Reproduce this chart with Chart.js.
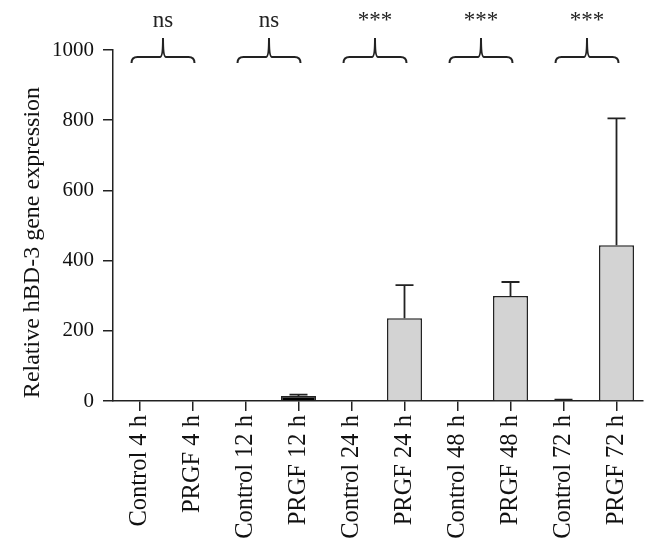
<!DOCTYPE html>
<html>
<head>
<meta charset="utf-8">
<script src="https://cdn.jsdelivr.net/npm/chart.js@4"></script>
<style>
    html, body { margin: 0; padding: 0; background: white; }
    #wrap { width: 658px; height: 544px; }
</style>
</head>
<body>
<div id="wrap"><canvas id="graph"></canvas></div>
<script>
const categories = ["Control 4 h", "PRGF 4 h", "Control 12 h", "PRGF 12 h", "Control 24 h",
    "PRGF 24 h", "Control 48 h", "PRGF 48 h", "Control 72 h", "PRGF 72 h"];
const expression = [0.5, 2, 2, 14, 0.5, 236, 2, 299, 2, 444];
const errorUp = [0, 0, 0, 4, 0, 94, 0, 40, 2, 361];
const barColors = ["#d3d3d3", "#d3d3d3", "#d3d3d3", "#000000", "#d3d3d3",
    "#d3d3d3", "#d3d3d3", "#d3d3d3", "#d3d3d3", "#d3d3d3"];
const yTicks = [0, 200, 400, 600, 800, 1000];
const yTitle = "Relative hBD-3 gene expression";
// paires comparées et leur significativité
const pairs = [[0, 1], [2, 3], [4, 5], [6, 7], [8, 9]];
const signif = ["ns", "ns", "***", "***", "***"];

const police = "'Liberation Serif', 'Times New Roman', serif";
const trait = "#222";

// barres d'erreur (vers le haut seulement)
const errorPlugin = {
    id: "errorbars",
    afterDatasetsDraw(chart) {
        const ctx = chart.ctx;
        const x = chart.scales.x;
        const y = chart.scales.y;
        ctx.save();
        ctx.strokeStyle = trait;
        ctx.lineWidth = 1.8;
        for (let i = 0; i < expression.length; i++) {
            if (!errorUp[i]) continue;
            const px = x.getPixelForValue(i);
            const top = y.getPixelForValue(expression[i] + errorUp[i]);
            const base = y.getPixelForValue(expression[i]);
            ctx.beginPath();
            ctx.moveTo(px, base);
            ctx.lineTo(px, top);
            ctx.moveTo(px - 9, top);
            ctx.lineTo(px + 9, top);
            ctx.stroke();
        }
        ctx.restore();
    }
};

// accolades + texte de significativité + titre de l'axe y
const bracePlugin = {
    id: "braces",
    afterDraw(chart) {
        const ctx = chart.ctx;
        const x = chart.scales.x;
        const y = chart.scales.y;
        ctx.save();
        ctx.strokeStyle = trait;
        ctx.lineWidth = 2;
        ctx.fillStyle = "#222";
        ctx.font = "23px " + police;
        ctx.textAlign = "center";
        ctx.textBaseline = "alphabetic";
        pairs.forEach(function (p, k) {
            const left = x.getPixelForValue(p[0]) - 8;
            const right = x.getPixelForValue(p[1]) + 2;
            const mid = (left + right) / 2;
            const yb = 57;
            ctx.beginPath();
            ctx.moveTo(left, 63);
            ctx.quadraticCurveTo(left, yb, left + 6, yb);
            ctx.lineTo(mid - 3, yb);
            ctx.quadraticCurveTo(mid, yb, mid, 38);
            ctx.quadraticCurveTo(mid, yb, mid + 3, yb);
            ctx.lineTo(right - 6, yb);
            ctx.quadraticCurveTo(right, yb, right, 63);
            ctx.stroke();
            ctx.fillText(signif[k], mid, 27);
        });
        // titre vertical, un peu plus bas que le centre du graphe
        ctx.fillStyle = "#111";
        ctx.font = "24px " + police;
        ctx.textBaseline = "middle";
        ctx.translate(33, (y.top + y.bottom) / 2 + 17);
        ctx.rotate(-Math.PI / 2);
        ctx.fillText(yTitle, 0, 0);
        ctx.restore();
    }
};

const ctx = document.getElementById("graph").getContext("2d");
new Chart(ctx, {
    type: "bar",
    data: {
        labels: categories,
        datasets: [{
            data: expression,
            backgroundColor: barColors,
            borderColor: trait,
            borderWidth: 1.5,
            categoryPercentage: 1,
            barPercentage: 0.66,
            minBarLength: 1,
        }]
    },
    options: {
        responsive: true,
        maintainAspectRatio: false,
        animation: false,
        layout: { padding: { top: 50, right: 15, left: 0, bottom: 0 } },
        plugins: {
            legend: { display: false },
            tooltip: { enabled: false }
        },
        scales: {
            x: {
                afterFit: function (s) { s.height = 143; },
                grid: { offset: false, drawOnChartArea: false, tickLength: 10, color: trait, lineWidth: 1.5 },
                border: { color: trait, width: 1.5 },
                ticks: {
                    minRotation: 90,
                    maxRotation: 90,
                    color: "#111",
                    padding: 4,
                    font: { family: police, size: 24.5 }
                }
            },
            y: {
                min: 0,
                max: 1000,
                afterFit: function (s) { s.width = 113; },
                afterBuildTicks: function (s) { s.ticks = yTicks.map(function (v) { return { value: v }; }); },
                grid: { drawOnChartArea: false, tickLength: 10, color: trait, lineWidth: 1.5 },
                border: { color: trait, width: 1.5 },
                ticks: {
                    color: "#111",
                    padding: 9,
                    font: { family: police, size: 21 },
                    callback: function (v) { return String(v); }
                }
            }
        }
    },
    plugins: [errorPlugin, bracePlugin]
});
</script>
</body>
</html>
